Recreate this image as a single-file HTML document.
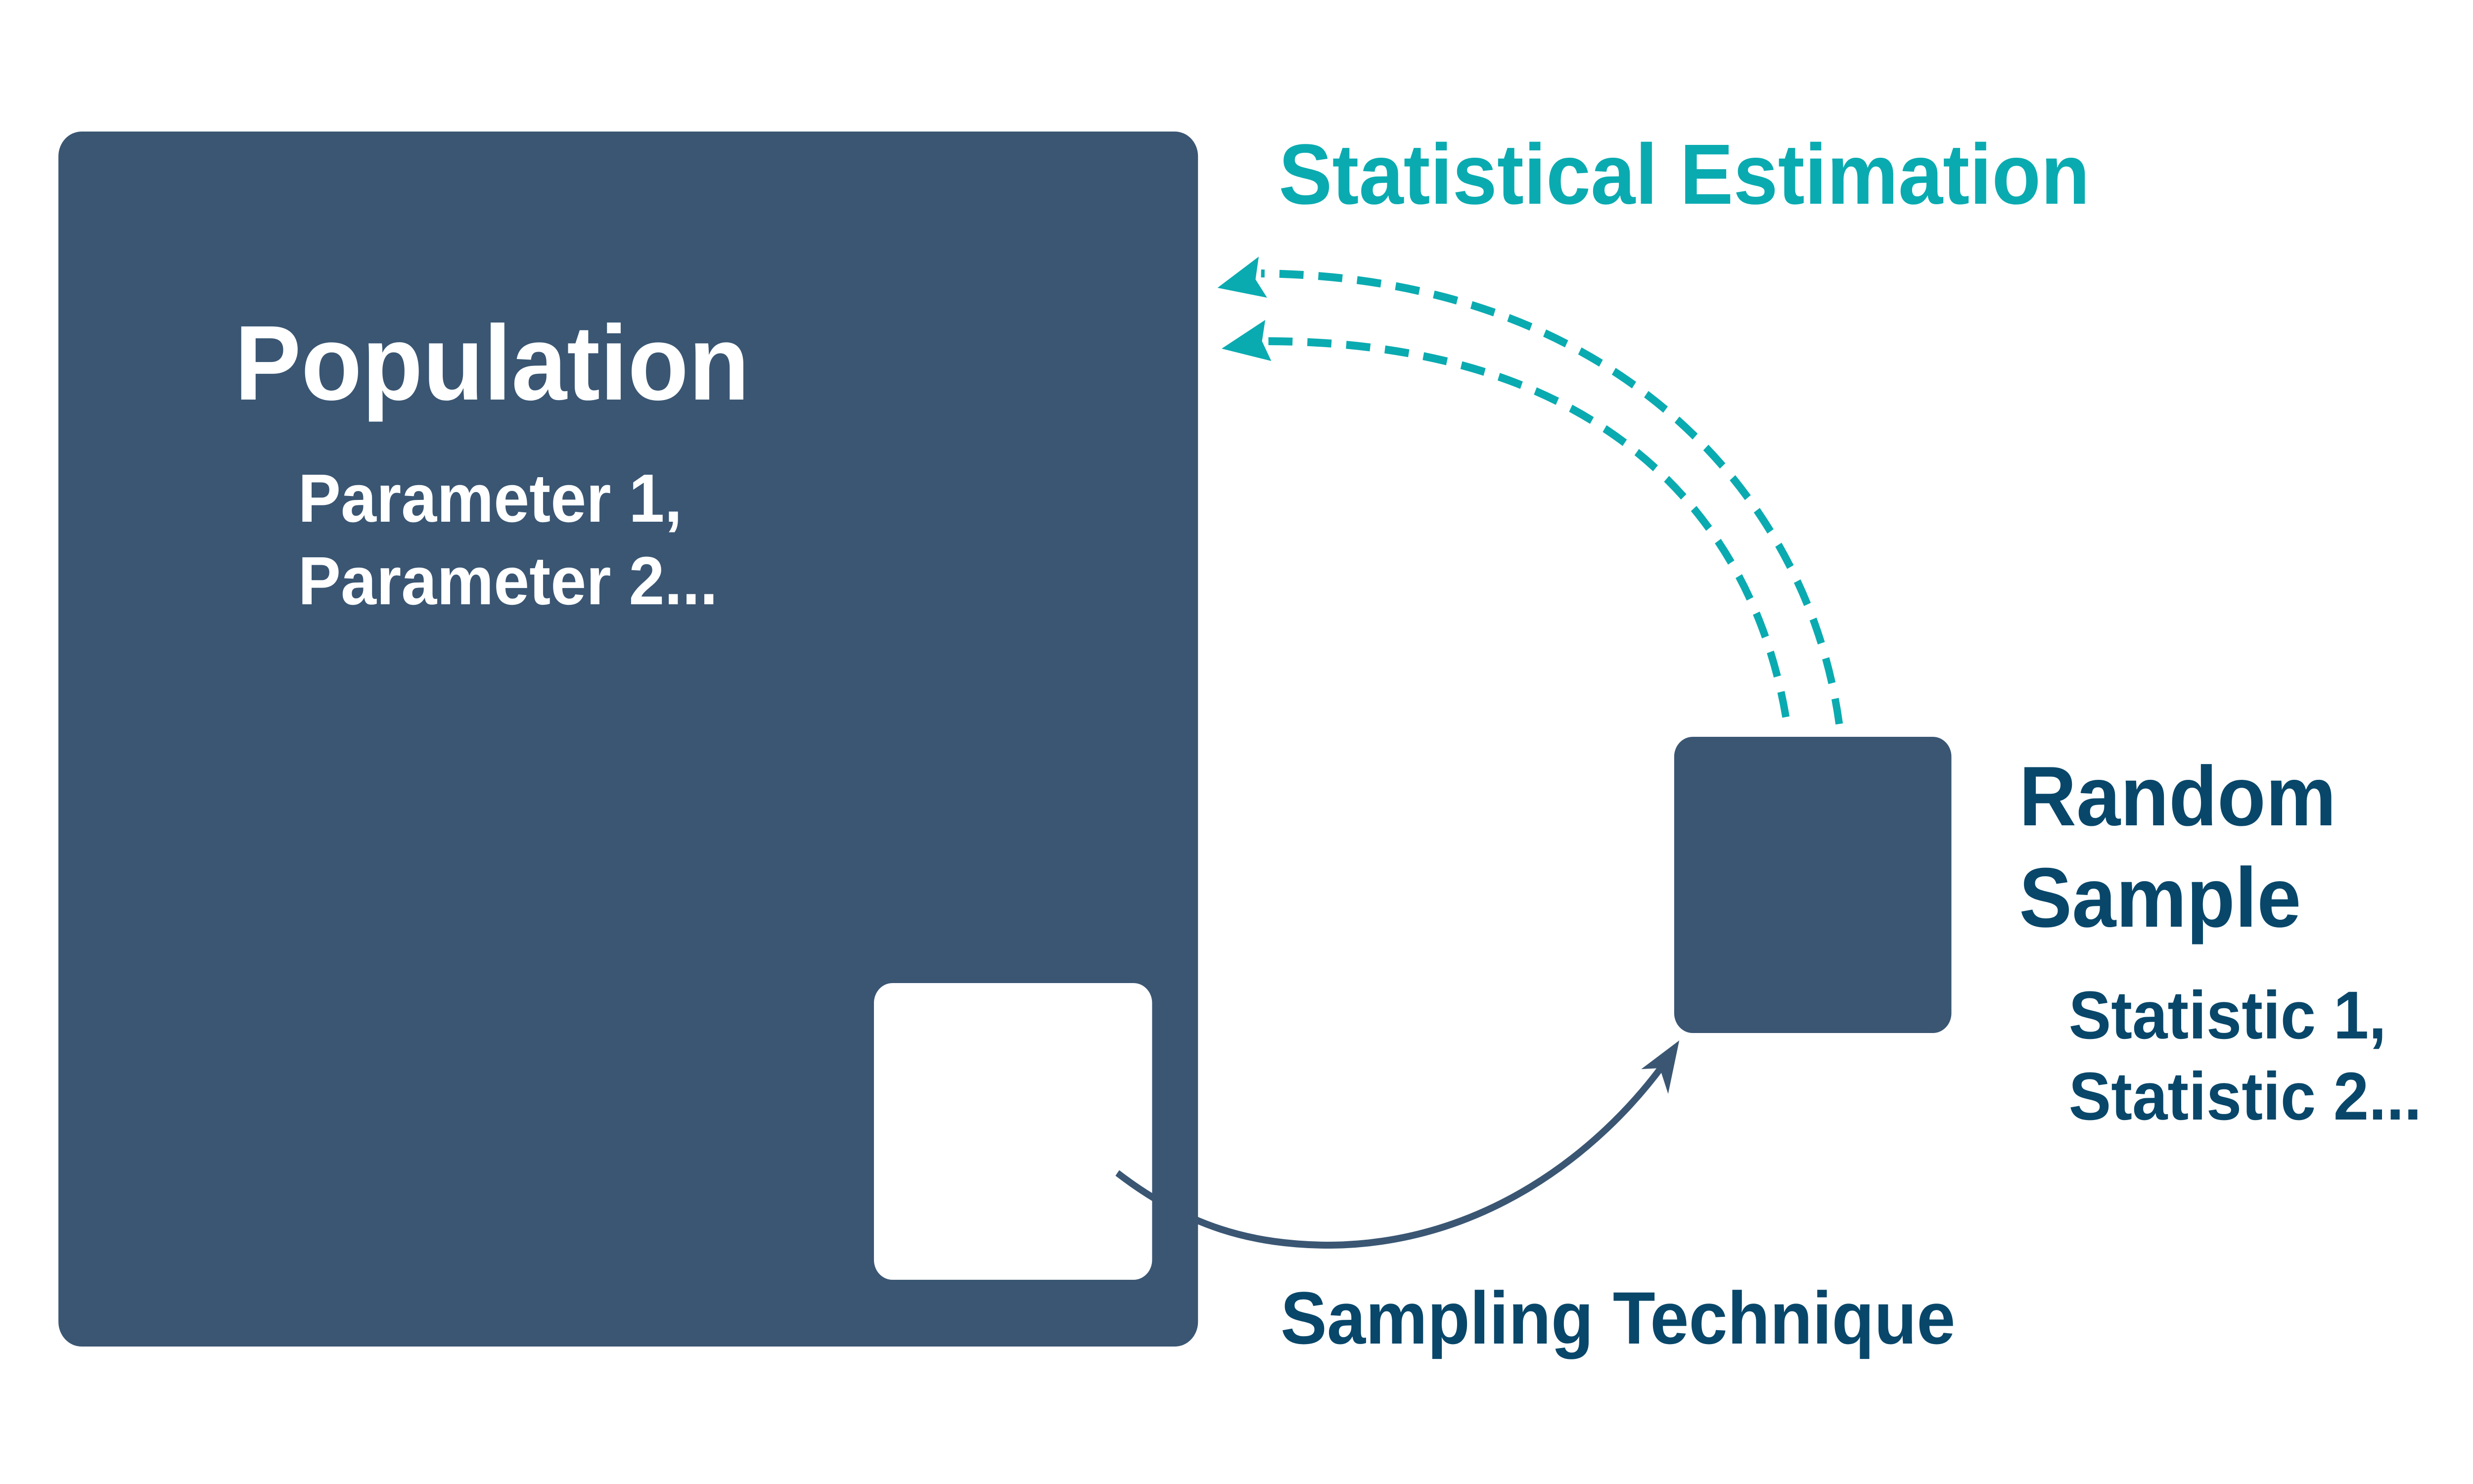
<!DOCTYPE html>
<html><head><meta charset="utf-8"><style>
html,body{margin:0;padding:0;background:#fff;overflow:hidden;width:100%;height:100%;}
svg{display:block;position:absolute;left:0;top:0;width:100vw;height:100vh;}
text{font-family:"Liberation Sans",Arial,sans-serif;font-weight:bold;}
</style></head><body>
<svg viewBox="0 0 5334 3001" preserveAspectRatio="none" xmlns="http://www.w3.org/2000/svg">
<rect x="0" y="0" width="5334" height="3001" fill="#ffffff"/>
<rect x="126" y="266" width="2458" height="2457" rx="50" ry="50" fill="#3a5673"/>
<rect x="1885" y="1988" width="600" height="600" rx="40" ry="40" fill="#ffffff"/>
<rect x="3611" y="1490" width="598" height="599" rx="40" ry="40" fill="#3a5673"/>

<text x="506" y="808" font-size="215" fill="#ffffff">Population</text>
<text x="643" y="1055" font-size="138" fill="#ffffff">Parameter 1,</text>
<text x="643" y="1222" font-size="138" fill="#ffffff">Parameter 2...</text>

<text x="2758" y="412" font-size="173" fill="#0aabb0">Statistical Estimation</text>

<text x="4355" y="1669" font-size="171" fill="#08476a">Random</text>
<text x="4355" y="1874" font-size="171" fill="#08476a">Sample</text>
<text x="4462" y="2100" font-size="137" fill="#08476a">Statistic 1,</text>
<text x="4462" y="2264" font-size="137" fill="#08476a">Statistic 2...</text>

<text x="2762" y="2717" font-size="150" fill="#08476a">Sampling Technique</text>

<path d="M2410,2372 C2560,2480 2700,2518 2870,2518 C3200,2515 3450,2330 3590,2150" fill="none" stroke="#3a5673" stroke-width="14"/>
<polygon points="3622,2104 3540,2162 3580,2160 3598,2212" fill="#3a5673"/>

<path d="M3967,1464 C3900,1000 3480,560 2720,553" fill="none" stroke="#0aabb0" stroke-width="16" stroke-dasharray="52 32"/>
<polygon points="2626,582 2715,519 2708,565 2733,602" fill="#0aabb0"/>
<path d="M3852,1450 C3780,1050 3460,690 2730,690" fill="none" stroke="#0aabb0" stroke-width="16" stroke-dasharray="52 32"/>
<polygon points="2635,705 2729,647 2722,690 2742,730" fill="#0aabb0"/>
</svg>
</body></html>
